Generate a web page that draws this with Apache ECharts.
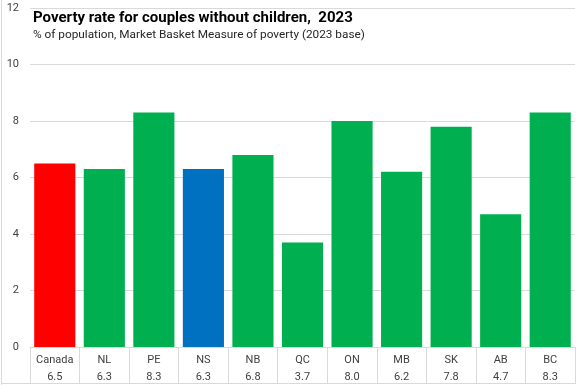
<!DOCTYPE html>
<html><head><meta charset="utf-8">
<script src="https://cdn.jsdelivr.net/npm/echarts@6/dist/echarts.min.js"></script>
<style>html,body{margin:0;padding:0;background:#fff}#c{width:576px;height:385px}</style>
</head><body><div id="c"></div>
<script>
var categories = ['Canada','NL','PE','NS','NB','QC','ON','MB','SK','AB','BC'];
var values = [6.5, 6.3, 8.3, 6.3, 6.8, 3.7, 8.0, 6.2, 7.8, 4.7, 8.3];
var barColors = ['#ff0000','#00b050','#00b050','#0070c0','#00b050','#00b050','#00b050','#00b050','#00b050','#00b050','#00b050'];
var yTicks = [0, 2, 4, 6, 8, 10, 12];
var titleText = 'Poverty rate for couples without children,  2023';
var subtitleText = '% of population, Market Basket Measure of poverty (2023 base)';

var chart = echarts.init(document.getElementById('c'), null, {renderer:'canvas'});
chart.setOption({
  animation: false,
  textStyle: {fontFamily: 'Roboto'},
  title: {
    text: titleText, subtext: subtitleText, left: 28, top: 6, itemGap: 3,
    textStyle: {fontSize: 15, fontWeight: 'bold', color: '#000', fontFamily: 'Roboto'},
    subtextStyle: {fontSize: 11.8, color: '#262626', fontFamily: 'Roboto'}
  },
  grid: {left: 30, right: 1, top: 8, bottom: 38},
  xAxis: {
    type: 'category', data: categories,
    axisLine: {lineStyle: {color: '#d9d9d9'}},
    axisTick: {show: true, length: 36, lineStyle: {color: '#d9d9d9'}},
    axisLabel: {
      margin: 5, interval: 0,
      formatter: function (v, i) { return '{a|' + v + '}\n{b|' + values[i].toFixed(1) + '}'; },
      rich: {
        a: {fontSize: 11, color: '#404040', lineHeight: 17, fontFamily: 'Roboto'},
        b: {fontSize: 11, color: '#404040', lineHeight: 17, fontFamily: 'Roboto'}
      }
    }
  },
  yAxis: {
    type: 'value', min: yTicks[0], max: yTicks[yTicks.length-1], interval: 2,
    axisLabel: {fontSize: 11, color: '#404040', margin: 11, fontFamily: 'Roboto'},
    splitLine: {lineStyle: {color: '#d9d9d9'}},
    axisLine: {show: false}, axisTick: {show: false}
  },
  series: [{
    type: 'bar', barCategoryGap: '17%',
    data: values.map(function (v, i) { return {value: v, itemStyle: {color: barColors[i]}}; })
  }],
  graphic: [
    {type: 'line', shape: {x1: 1.5, y1: 0, x2: 1.5, y2: 385}, style: {stroke: '#d9d9d9', lineWidth: 1}},
    {type: 'line', shape: {x1: 1, y1: 383.5, x2: 576, y2: 383.5}, style: {stroke: '#d9d9d9', lineWidth: 1}}
  ]
});
</script></body></html>
